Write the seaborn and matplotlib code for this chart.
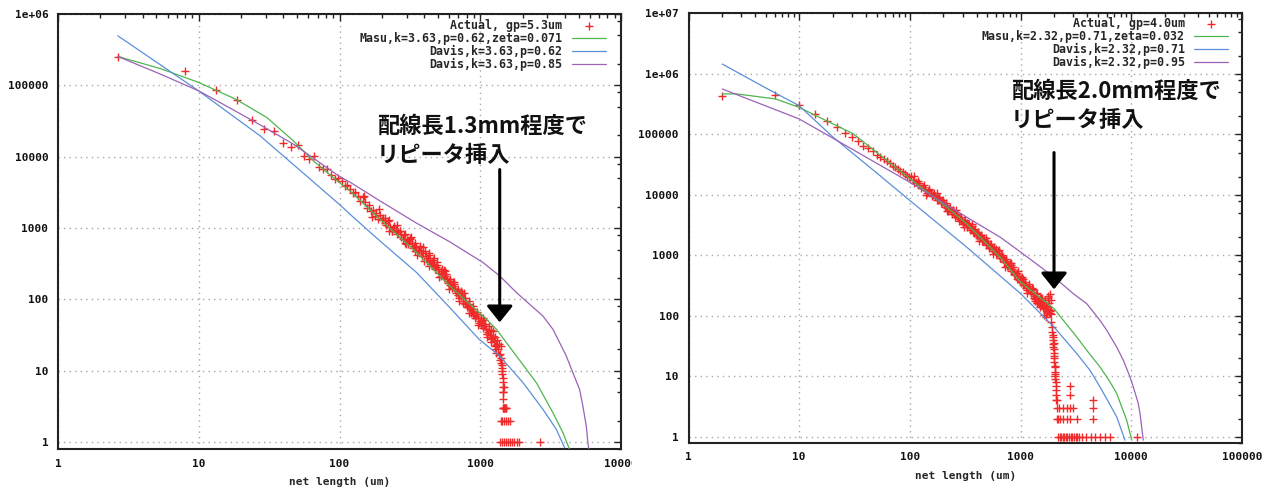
import matplotlib
matplotlib.use("Agg")
import matplotlib.pyplot as plt
import seaborn as sns
from matplotlib.ticker import FixedLocator, FixedFormatter, LogLocator, NullFormatter
from matplotlib.transforms import Bbox

# ---------------- LEFT PANEL DATA (gp = 5.3um) ----------------
xL_sparse = [2.65, 7.95, 13.25, 18.55, 23.85, 29.15, 34.45, 39.75, 45.05, 50.35,
             55.65, 60.95, 66.25, 71.55, 76.85, 82.15, 87.45, 92.75, 98.05, 103.35,
             108.65, 113.95, 119.25, 124.55, 129.85, 135.15, 140.45, 145.75, 151.05, 156.35,
             161.65, 166.95, 172.25, 177.55, 182.85, 188.15, 193.45]
yL_sparse = [246000, 160000, 85700, 62000, 32800, 24500, 23000, 15800, 13700, 14500,
             10300, 9430, 10100, 7200, 6680, 6830, 5600, 4940, 5100, 4600,
             3890, 4030, 3500, 3080, 3250, 2800, 2400, 2680, 2300, 1900,
             2100, 1740, 1800, 1480, 1600, 1350, 1500]
xL_band = [200, 210, 220, 230, 240, 250, 262, 275, 288, 300,
           312, 325, 338, 352, 366, 380, 395, 410, 425, 440,
           456, 472, 488, 505, 522, 540, 558, 577, 596, 616,
           636, 657, 679, 701, 724, 748, 773, 798, 825, 852,
           880, 909, 939, 970, 1002, 1035, 1069, 1104, 1140, 1178,
           1216, 1256, 1298, 1340, 1384]
yL_band = [1300, 1180, 1250, 1050, 1000, 930, 880, 760, 800, 690,
           650, 610, 560, 540, 500, 470, 440, 400, 380, 360,
           330, 310, 280, 265, 250, 230, 210, 195, 180, 165,
           155, 140, 130, 122, 112, 104, 96, 88, 82, 75,
           68, 63, 58, 54, 50, 46, 42, 38, 35, 32,
           29, 26, 23, 20, 17]
xL_band2 = [205, 215, 225, 235, 245, 256, 268, 281, 294, 306,
            318, 331, 345, 359, 373, 387, 402, 417, 432, 448,
            464, 480, 496, 513, 531, 549, 567, 586, 606, 626,
            646, 668, 690, 712, 736, 760, 785, 811, 838, 866,
            894, 924, 954, 986, 1018, 1052, 1086, 1122, 1159, 1197,
            1236, 1277, 1319, 1362]
yL_band2 = [1390, 1090, 1290, 920, 1080, 815, 920, 700, 835, 600,
            705, 525, 615, 470, 545, 410, 470, 350, 415, 310,
            360, 265, 305, 231, 270, 198, 226, 169, 193, 144,
            165, 122, 141, 105, 121, 90, 103, 77, 87, 64,
            73, 54, 63, 47, 54, 40, 45, 33, 37.5, 27.5,
            31, 22, 24, 16.5]
xL_spread = [210, 235, 268, 295, 318, 345, 372, 400, 430, 462,
             495, 530, 565, 605, 645, 690, 735, 785, 835, 890,
             950, 1010, 1060, 1120, 1160, 1200, 1240, 1280, 1320, 1360,
             1400, 1300, 1380, 1420, 1430]
yL_spread = [1400, 900, 900, 600, 720, 470, 560, 350, 440, 290,
             330, 210, 250, 160, 175, 115, 130, 85, 95, 60,
             66, 44, 52, 33, 42, 25, 36, 30, 27, 24,
             22, 18, 14, 12, 10]
xL_spread2 = [150, 170, 190, 226, 258, 290, 322, 356, 392, 430,
              470, 512, 556, 604, 654, 708, 766, 828, 894, 964,
              1040, 1120, 1200, 1280]
yL_spread2 = [2800, 1440, 1830, 920, 1100, 610, 760, 425, 545, 296,
              380, 206, 260, 141, 173, 96, 121, 65, 81, 44,
              55, 30, 37, 20]
xL_tail = [1405, 1415, 1425, 1435, 1440, 1448, 1452, 1458, 1462, 1445, 1468,
           1440, 1455, 1470, 1485, 1500, 1515, 1530,
           1400, 1430, 1470, 1520, 1580, 1640,
           1390, 1430, 1480, 1530, 1580, 1630, 1690, 1750, 1820, 1900, 2650]
yL_tail = [15, 13, 11, 9, 8, 7, 6, 5, 4, 5, 6,
           3, 3, 3, 3, 3, 3, 3,
           2, 2, 2, 2, 2, 2,
           1, 1, 1, 1, 1, 1, 1, 1, 1, 1, 1]

xL_masu = [2.66, 5.33, 9.97, 18.3, 30.4, 47, 65.2, 99.7, 118.7, 194, 353, 608, 1047, 1303, 1806, 2505, 3284, 3865, 4305]
yL_masu = [254000, 172000, 110000, 64000, 35500, 16700, 8730, 4350, 3310, 1330, 453, 154, 58.5, 38.1, 16.1, 6.8, 2.58, 1.36, 0.79]
xL_dav1 = [2.66, 9.97, 27.3, 99.7, 118.7, 194, 353, 608, 981, 1375, 2013, 2788, 3470, 3980]
yL_dav1 = [495000, 83800, 19600, 2150, 1563, 659, 238, 76.7, 27.6, 16.1, 6.8, 2.88, 1.51, 0.83]
xL_dav2 = [2.66, 5.33, 9.97, 13.5, 27, 47, 99.7, 118.7, 194, 353, 608, 1047, 1375,
           1806, 2244, 2788, 3284, 3664, 4085, 4550, 5080, 5360, 5665, 5820, 5900]
yL_dav2 = [254000, 144000, 83800, 60600, 28300, 15000, 5300, 4400, 2400, 1170, 640, 328, 213,
           125, 85.3, 58.5, 38.1, 24.8, 16.1, 9.4, 5.48, 3.2, 1.68, 0.98, 0.8]

# ---------------- RIGHT PANEL DATA (gp = 4.0um) ----------------
xR_sparse = [2, 6, 10, 14, 18, 22, 26, 30, 34, 38, 42, 46, 50, 54, 58, 62, 66, 70, 74, 78, 82, 86, 90, 94]
yR_sparse = [424000, 447000, 305000, 217000, 164000, 131000, 104000, 89200, 78700, 65100,
             59000, 52000, 46000, 41700, 39000, 36800, 33000, 30400, 29000, 26500,
             25200, 23500, 22000, 20800]
xR_band = [98, 106, 114, 122, 130, 138, 146, 154, 162, 170,
           178, 186, 194, 202, 210, 218, 226, 234, 242, 250,
           262, 274, 286, 298, 310, 322, 334, 346, 358, 370,
           382, 394, 406, 418, 430, 446, 462, 478, 494, 510,
           530, 550, 570, 590, 614, 638, 662, 690, 718, 746,
           778, 810, 842, 878, 914, 950, 990, 1030, 1070, 1114,
           1158, 1206, 1254, 1302, 1354, 1406, 1462, 1518, 1578, 1638,
           1702, 1766, 1834, 1898]
yR_band = [19500, 17800, 16200, 14800, 13600, 12500, 11600, 10800, 10100, 9400,
           8800, 8200, 7700, 7200, 6700, 6300, 5900, 5500, 5200, 4900,
           4600, 4300, 4000, 3750, 3550, 3350, 3150, 2950, 2800, 2650,
           2500, 2380, 2250, 2150, 2050, 1930, 1820, 1710, 1620, 1530,
           1430, 1340, 1260, 1190, 1110, 1040, 980, 880, 820, 760,
           700, 650, 600, 540, 500, 450, 400, 370, 340, 315,
           290, 270, 250, 232, 215, 200, 185, 172, 160, 148,
           138, 128, 118, 108]
xR_band2 = [102, 110, 118, 126, 134, 142, 150, 158, 166, 174,
            182, 190, 198, 206, 214, 222, 230, 238, 246, 256,
            268, 280, 292, 304, 316, 328, 340, 352, 364, 376,
            388, 400, 412, 424, 438, 454, 470, 486, 502, 520,
            540, 560, 580, 602, 626, 650, 676, 704, 732, 762,
            794, 826, 860, 896, 932, 970, 1010, 1050, 1092, 1136,
            1182, 1230, 1278, 1328, 1380, 1434, 1490, 1548, 1608, 1670,
            1734, 1800, 1866]
yR_band2 = [20500, 15500, 17000, 12900, 14300, 10900, 12300, 9500, 10700, 8300,
            9300, 7200, 8200, 6300, 7200, 5500, 6300, 4850, 5600, 4300,
            4900, 3750, 4250, 3300, 3800, 2950, 3350, 2600, 3000, 2330,
            2700, 2100, 2420, 1900, 2200, 1700, 1940, 1500, 1730, 1340,
            1520, 1180, 1350, 1040, 1180, 910, 1020, 770, 870, 660,
            740, 560, 630, 470, 520, 385, 420, 320, 360, 272,
            308, 234, 265, 200, 228, 172, 196, 150, 170, 128,
            146, 110, 125]
xR_spread = [120, 150, 180, 215, 250, 290, 330, 370, 410, 450,
             500, 550, 600, 650, 700, 760, 820, 880, 940, 1000,
             1060, 1120, 1180, 1240, 1300, 1360, 1420, 1480, 1540, 1600,
             1660, 1720, 1780, 1840, 1880, 1620, 1700, 1760, 1820, 1860,
             1500, 1420, 1350]
yR_spread = [15800, 11800, 8200, 6000, 5200, 3800, 3400, 2400, 2350, 1750,
             1700, 1250, 1250, 920, 950, 660, 680, 500, 560, 360,
             400, 290, 330, 240, 280, 190, 240, 160, 200, 135,
             180, 120, 200, 110, 180, 105, 95, 215, 160, 230,
             140, 165, 175]
xR_spread2 = [110, 140, 175, 215, 260, 310, 365, 425, 490, 560,
              640, 725, 820, 920, 1030, 1150, 1280, 1420, 1570, 1730]
yR_spread2 = [20400, 10100, 10800, 5300, 5600, 2900, 3260, 1700, 1970, 1070,
              1240, 650, 760, 400, 445, 240, 290, 160, 195, 110]
xR_drop = [1900, 1920, 1940, 1950, 1960, 1970, 1990, 2000, 2010, 2020,
           2030, 2040, 2050, 2060, 2070, 2080, 2090, 2100,
           1960, 2000, 2040, 1980, 2020, 2060, 2100]
yR_drop = [80, 65, 55, 48, 40, 34, 28, 24, 20, 17,
           14, 12, 10, 9, 8, 7, 6, 5,
           30, 22, 15, 45, 35, 11, 4]
xR_tail = [2795, 2795, 2120, 4540,
           2120, 2200, 2430, 2600, 2795, 2995, 4540,
           2120, 2180, 2250, 2430, 2600, 2795, 3210, 4540,
           2180, 2250, 2330, 2400, 2480, 2560, 2650, 2740, 2830, 2930, 3030,
           3140, 3260, 3400, 3565, 3900, 4300, 4700, 5210, 5800, 6420, 11200]
yR_tail = [7, 5, 4, 4,
           3, 3, 3, 3, 3, 3, 3,
           2, 2, 2, 2, 2, 2, 2, 2,
           1, 1, 1, 1, 1, 1, 1, 1, 1, 1, 1,
           1, 1, 1, 1, 1, 1, 1, 1, 1, 1, 1]

xR_masu = [2.02, 2.73, 6.13, 9.96, 30.8, 100, 215, 326, 652, 1002, 2004, 3213, 3955, 5212, 6420, 7380, 9080, 10090]
yR_masu = [465000, 465000, 384000, 279000, 102000, 18400, 6240, 3320, 933, 361, 131, 44.7, 27, 14.3, 8.1, 5.2, 1.89, 0.88]
xR_dav1 = [2.02, 5, 9.96, 20.3, 50, 100, 326, 1002, 2004, 3213, 4236, 5212, 6200, 7380, 8770]
yR_dav1 = [1450000, 583000, 298000, 89200, 23100, 8050, 1365, 232, 65.3, 23.8, 12.6, 6.7, 3.8, 2.14, 0.88]
xR_dav2 = [2.02, 9.96, 20.3, 100, 326, 652, 1002, 2004, 2995, 3955, 5212, 5998, 7380,
           8470, 9730, 10420, 11560, 11990, 12830]
yR_dav2 = [561000, 180000, 85700, 16100, 4270, 2000, 1130, 437, 232, 159, 84.3, 57.7, 30.5,
           18.4, 9.8, 6.7, 3.56, 2.43, 0.88]

labels_L = ["Actual, gp=5.3um", "Masu,k=3.63,p=0.62,zeta=0.071",
            "Davis,k=3.63,p=0.62", "Davis,k=3.63,p=0.85"]
labels_R = ["Actual, gp=4.0um", "Masu,k=2.32,p=0.71,zeta=0.032",
            "Davis,k=2.32,p=0.71", "Davis,k=2.32,p=0.95"]
xticks_L = [1, 10, 100, 1000, 10000]
xticklabels_L = ["1", "10", "100", "1000", "10000"]
yticks_L = [1, 10, 100, 1000, 10000, 100000, 1000000]
yticklabels_L = ["1", "10", "100", "1000", "10000", "100000", "1e+06"]
xticks_R = [1, 10, 100, 1000, 10000, 100000]
xticklabels_R = ["1", "10", "100", "1000", "10000", "100000"]
yticks_R = [1, 10, 100, 1000, 10000, 100000, 1000000, 10000000]
yticklabels_R = ["1", "10", "100", "1000", "10000", "100000", "1e+06", "1e+07"]
note_L = "配線長1.3mm程度で\nリピータ挿入"
note_R = "配線長2.0mm程度で\nリピータ挿入"

RED = "#f02a2a"
GREEN = "#4fb54f"
BLUE = "#5b8fd8"
PURPLE = "#9b62b8"

sns.set_style("white")
plt.rcParams['font.family'] = ['DejaVu Sans Mono', 'Noto Sans CJK JP']
plt.rcParams['font.weight'] = 'bold'

W, H = 1273, 494
fig = plt.figure(figsize=(W / 100, H / 100), dpi=100)
axL = fig.add_axes([58 / W, 45 / H, 563 / W, 435 / H])
axR = fig.add_axes([688.5 / W, 51.3 / H, 553.5 / W, 429.4 / H])


def draw_panel(ax, xs, ys, xm, ym, xd1, yd1, xd2, yd2, labels):
    sns.scatterplot(x=xs, y=ys, ax=ax, marker='+', color=RED, s=40,
                    linewidth=1.0, label=labels[0], zorder=3)
    sns.lineplot(x=xm, y=ym, ax=ax, color=GREEN, linewidth=0.9,
                 estimator=None, sort=False, label=labels[1], zorder=4)
    sns.lineplot(x=xd1, y=yd1, ax=ax, color=BLUE, linewidth=0.9,
                 estimator=None, sort=False, label=labels[2], zorder=4)
    sns.lineplot(x=xd2, y=yd2, ax=ax, color=PURPLE, linewidth=0.9,
                 estimator=None, sort=False, label=labels[3], zorder=4)


def style_axes(ax, xmax, ymax, xt, xtl, yt, ytl):
    ax.set_xscale('log')
    ax.set_yscale('log')
    ax.set_xlim(1, xmax)
    ax.set_ylim(0.8, ymax)
    ax.xaxis.set_major_locator(FixedLocator(xt))
    ax.xaxis.set_major_formatter(FixedFormatter(xtl))
    ax.yaxis.set_major_locator(FixedLocator(yt))
    ax.yaxis.set_major_formatter(FixedFormatter(ytl))
    ax.xaxis.set_minor_locator(LogLocator(base=10, subs=[2, 3, 4, 5, 6, 7, 8, 9], numticks=30))
    ax.yaxis.set_minor_locator(LogLocator(base=10, subs=[2, 5, 8], numticks=30))
    ax.xaxis.set_minor_formatter(NullFormatter())
    ax.yaxis.set_minor_formatter(NullFormatter())
    ax.tick_params(which='both', direction='in', top=True, right=True,
                   color='#222222', labelsize=8, labelcolor='#111111')
    ax.tick_params(which='major', length=5, width=1.0)
    ax.tick_params(which='minor', length=3, width=1.0)
    ax.tick_params(axis='y', which='major', pad=7)
    ax.tick_params(axis='x', which='major', pad=7)
    ax.grid(True, which='major', linestyle=(0, (1, 3)), color='#a8a8a8', linewidth=1.0)
    ax.grid(False, which='minor')
    for s in ax.spines.values():
        s.set_linewidth(1.5)
        s.set_color('#222222')
        s.set_visible(True)
    ax.set_xlabel("net length (um)", fontsize=8, fontweight='bold', labelpad=6)
    ax.set_ylabel("")


draw_panel(axL, xL_sparse + xL_band + xL_band2 + xL_spread + xL_spread2 + xL_tail,
           yL_sparse + yL_band + yL_band2 + yL_spread + yL_spread2 + yL_tail,
           xL_masu, yL_masu, xL_dav1, yL_dav1, xL_dav2, yL_dav2, labels_L)
draw_panel(axR, xR_sparse + xR_band + xR_band2 + xR_spread + xR_spread2 + xR_drop + xR_tail,
           yR_sparse + yR_band + yR_band2 + yR_spread + yR_spread2 + yR_drop + yR_tail,
           xR_masu, yR_masu, xR_dav1, yR_dav1, xR_dav2, yR_dav2, labels_R)

style_axes(axL, 10000, 1.0e6, xticks_L, xticklabels_L, yticks_L, yticklabels_L)
style_axes(axR, 100000, 1.0e7, xticks_R, xticklabels_R, yticks_R, yticklabels_R)

for ax, anchor in ((axL, (0.9725, 0.988)), (axR, (0.9747, 0.991))):
    h, l = ax.get_legend_handles_labels()
    ax.legend(h, l, loc='upper right', bbox_to_anchor=anchor, frameon=False,
              markerfirst=False, prop=dict(family='DejaVu Sans Mono', weight='bold', size=8.4),
              handlelength=2.9, handletextpad=0.8, labelspacing=0.0,
              borderpad=0.0, borderaxespad=0.0, scatterpoints=1)

# annotations
fig.text(377 / W, 1 - 141 / H, note_L, fontsize=16, fontweight='bold',
         family=['Noto Sans CJK JP'], ha='left', va='center', linespacing=1.3, color='#111111')
fig.text(1011 / W, 1 - 106 / H, note_R, fontsize=16, fontweight='bold',
         family=['Noto Sans CJK JP'], ha='left', va='center', linespacing=1.3, color='#111111')

arrow_kw = dict(arrowstyle='-|>,head_width=0.8,head_length=1.0', mutation_scale=10,
                lw=2.2, color='black', shrinkA=0, shrinkB=0)
axL.annotate('', xy=(1375, 47.7), xytext=(1375, 6600), arrowprops=arrow_kw, zorder=6)
axR.annotate('', xy=(2004, 274), xytext=(2004, 49900), arrowprops=arrow_kw, zorder=6)

# the left panel's last x label is cut off where the source image ends
fig.canvas.draw()
clip = Bbox.from_extents(0, 0, 632, H)
for t in axL.xaxis.get_major_ticks():
    t.label1.set_clip_box(clip)
    t.label1.set_clip_on(True)

fig.savefig("out.png", dpi=100, facecolor='white')
